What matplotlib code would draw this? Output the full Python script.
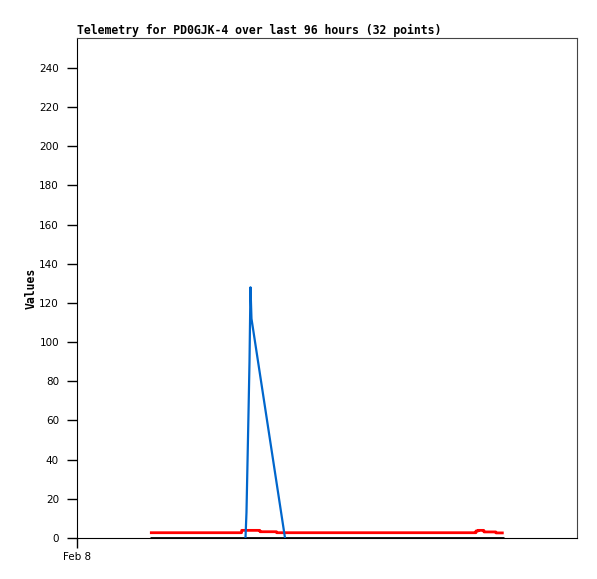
import matplotlib
matplotlib.use("Agg")
import matplotlib.pyplot as plt

# x values in hours since Feb 8 00:00
black_x = [14.0, 81.9]
black_y = [0, 0]

blue_x = [32.35, 32.54, 32.74, 32.93, 33.12, 33.31, 33.50, 39.94]
blue_y = [0, 13, 39, 64, 90, 128, 112, 0]

red_x = [14.0, 31.6, 31.62, 35.1, 35.14, 38.3, 38.34, 76.6, 76.61, 77.0, 76.99, 78.1, 78.14, 80.4, 80.45, 81.93]
red_y = [2.7, 2.7, 3.9, 3.9, 3.2, 3.2, 2.7, 2.7, 3.6, 3.6, 3.9, 3.9, 3.1, 3.1, 2.6, 2.6]

xticks = [0]
xticklabels = ["Feb 8"]
yticks = [0, 20, 40, 60, 80, 100, 120, 140, 160, 180, 200, 220, 240]

fig = plt.figure(figsize=(5.97, 5.79), dpi=100)
ax = fig.add_axes([77/597, 41/579, 500/597, 500/579])

ax.plot(black_x, black_y, color="black", lw=2, solid_capstyle="butt")
ax.plot(red_x, red_y, color="#ff0000", lw=2, solid_capstyle="butt")
ax.plot(blue_x, blue_y, color="#0066cc", lw=1.6)

ax.set_xlim(0, 96)
ax.set_ylim(0, 255.3)
ax.set_xticks(xticks)
ax.set_xticklabels(xticklabels)
ax.set_yticks(yticks)
ax.tick_params(direction="out", length=7, width=1, labelsize=7.5, color="black")
ax.tick_params(axis="y", pad=6)
ax.tick_params(axis="x", pad=3)

for s in ["top", "right"]:
    ax.spines[s].set_color("#444444")
for s in ["left", "bottom"]:
    ax.spines[s].set_color("black")

ax.set_title("Telemetry for PD0GJK-4 over last 96 hours (32 points)",
             loc="left", fontsize=8.3, fontweight="bold", family="DejaVu Sans Mono", pad=3)
ax.set_ylabel("Values", fontsize=8.3, fontweight="bold", family="DejaVu Sans Mono")
ax.yaxis.set_label_coords(-0.078, 0.5)

fig.savefig("out.png", dpi=100)
